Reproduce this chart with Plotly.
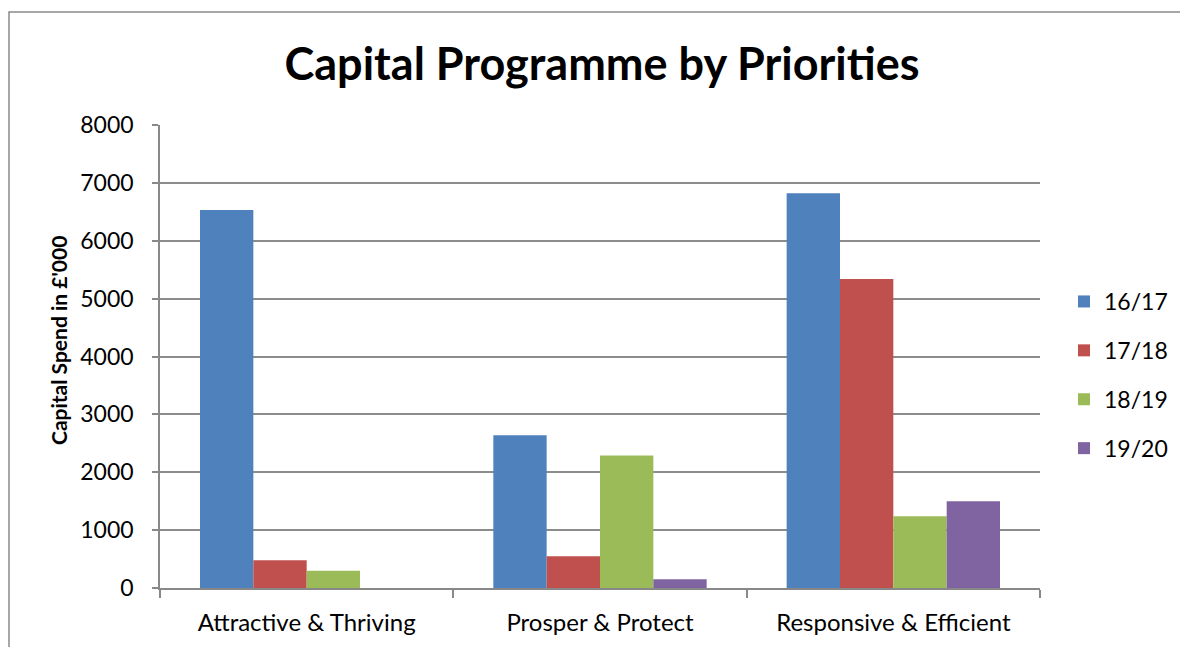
import plotly.graph_objects as go

categories = ["Attractive & Thriving", "Prosper & Protect", "Responsive & Efficient"]
series_names = ["16/17", "17/18", "18/19", "19/20"]
values_1617 = [6530, 2640, 6820]
values_1718 = [480, 550, 5340]
values_1819 = [300, 2290, 1240]
values_1920 = [0, 150, 1500]
colors = ["#4F81BD", "#C0504D", "#9BBB59", "#8064A2"]
y_title = "Capital Spend in £'000"
chart_title = "Capital Programme by Priorities"

FONT = "Lato"
fig = go.Figure()
for name, vals, col in zip(series_names, [values_1617, values_1718, values_1819, values_1920], colors):
    fig.add_trace(go.Bar(x=categories, y=vals, name=name, marker_color=col,
                         marker_line_width=0, legendgroup=name))

W, H = 1180, 647
L, R, T, B = 160, 140, 125, 59
pw, ph = W - L - R, H - T - B

def px(x):
    return (x - L) / pw

def py(y):
    return (H - B - y) / ph

fig.update_layout(
    width=W, height=H,
    margin=dict(l=L, r=R, t=T, b=B, autoexpand=False),
    paper_bgcolor="white", plot_bgcolor="white",
    barmode="group", bargap=0.2727, bargroupgap=0,
    font=dict(family=FONT, color="#000000", size=23),
    title=dict(text="<b>" + chart_title + "</b>", xref="container", x=602 / W, xanchor="center",
               y=1 - 64 / H, yanchor="middle", font=dict(size=45, family=FONT)),
    legend=dict(x=px(1064), xanchor="left", y=py(375), yanchor="middle",
                font=dict(size=23), tracegroupgap=16, itemwidth=30, bgcolor="rgba(0,0,0,0)"),
    xaxis=dict(showline=True, linecolor="#888888", linewidth=1.5,
               ticks="outside", ticklen=8, tickcolor="#888888", tickwidth=1.5,
               tickson="boundaries", tickfont=dict(size=24), showgrid=False,
               ticklabelstandoff=12),
    yaxis=dict(range=[0, 8000], dtick=1000, showline=True, linecolor="#888888", linewidth=1.5,
               ticks="outside", ticklen=6, tickcolor="#888888", tickwidth=1.5,
               showgrid=True, gridcolor="#8c8c8c", gridwidth=1.5,
               tickfont=dict(size=23), zeroline=False, ticklabelstandoff=14),
    annotations=[dict(text="<b>" + y_title + "</b>", textangle=-90, xref="paper", yref="paper",
                      x=px(58), y=py(341), xanchor="center", yanchor="middle", showarrow=False,
                      font=dict(size=21, family=FONT))],
    shapes=[dict(type="rect", xref="paper", yref="paper",
                 x0=px(9), x1=px(1195), y0=py(670), y1=py(12),
                 line=dict(color="#8a8a8a", width=1.5), fillcolor="rgba(0,0,0,0)", layer="below")],
)

fig.write_html("out.html", config={"displayModeBar": False},
               post_script="document.body.style.margin='0';document.body.style.overflow='hidden';")
